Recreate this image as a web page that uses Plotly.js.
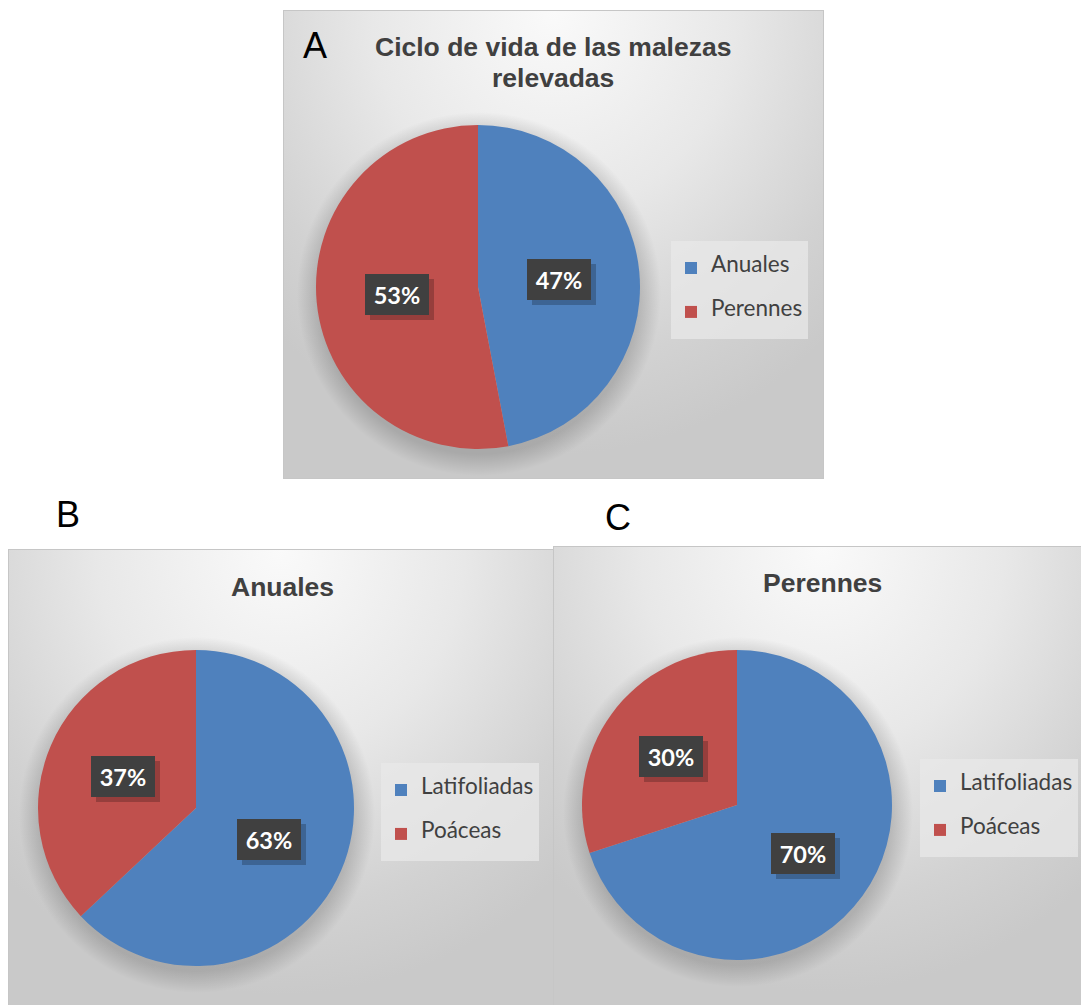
<!DOCTYPE html>
<html><head><meta charset="utf-8">
<script src="https://cdn.plot.ly/plotly-3.0.1.min.js"></script>
<style>
html,body{margin:0;padding:0;background:#fff;}
#wrap{position:relative;width:1081px;height:1005px;overflow:hidden;}
.panel{position:absolute;box-sizing:border-box;border:1px solid #c6c6c6;}
#pA{left:283px;top:10px;width:541px;height:469px;
 background:
 radial-gradient(circle at 195px 283px, rgba(0,0,0,0.16) 160px, rgba(0,0,0,0.0) 182px),
 radial-gradient(ellipse 75% 95% at 50% 0%, #fafafa 0%, #e8e8e8 45%, #d2d2d2 80%, #c9c9c9 100%);}
#pB{left:8px;top:549px;width:546px;height:470px;
 background:
 radial-gradient(circle at 188px 265px, rgba(0,0,0,0.16) 156px, rgba(0,0,0,0.0) 178px),
 radial-gradient(ellipse 75% 95% at 50% 0%, #fafafa 0%, #e8e8e8 45%, #d2d2d2 80%, #c9c9c9 100%);}
#pC{left:553px;top:546px;width:540px;height:470px;
 background:
 radial-gradient(circle at 184px 265px, rgba(0,0,0,0.16) 153px, rgba(0,0,0,0.0) 175px),
 radial-gradient(ellipse 75% 95% at 50% 0%, #fafafa 0%, #e8e8e8 45%, #d2d2d2 80%, #c9c9c9 100%);}
#chart{position:absolute;left:0;top:0;width:1081px;height:1005px;}
</style></head><body>
<div id="wrap">
<div class="panel" id="pA"></div>
<div class="panel" id="pB"></div>
<div class="panel" id="pC"></div>
<div id="chart"></div>
</div>
<script>
// ---- data ----
const cicloLabels = ['Anuales', 'Perennes'];
const cicloValues = [47, 53];
const grupoLabels = ['Latifoliadas', 'Poáceas'];
const anualesValues = [63, 37];
const perennesValues = [70, 30];
const sliceColors = ['#4F81BD', '#C0504D'];
const titleA = ['Ciclo de vida de las malezas', 'relevadas'];
const titleB = 'Anuales';
const titleC = 'Perennes';

// ---- layout helpers ----
const W = 1081, H = 1005;
function domainFor(cx, cy, r) {
  return { x: [(cx - r) / W, (cx + r) / W], y: [(H - cy - r) / H, (H - cy + r) / H] };
}
const domA = domainFor(478, 287, 162);
const domB = domainFor(196, 808, 158);
const domC = domainFor(737, 805, 155);

// legend entries: padded with blank lines for Excel-like spacing;
// the pad string differs per legend so identical labels are not merged
function legendLabels(labels, pad) {
  return labels.map(l => pad + '<br><span style="font-size:22.5px">' + l + '</span><br>' + pad);
}

function pieTrace(labels, values, dom, legendId, pad) {
  return {
    type: 'pie', labels: legendLabels(labels, pad), values: values, domain: dom,
    sort: false, direction: 'clockwise', rotation: 0,
    marker: { colors: sliceColors, line: { width: 0 } },
    textinfo: 'none', hoverinfo: 'percent', legend: legendId, showlegend: true
  };
}

function dataLabels(values, dom, frac) {
  const cx = (dom.x[0] + dom.x[1]) / 2, cy = (dom.y[0] + dom.y[1]) / 2;
  const rpx = Math.min((dom.x[1] - dom.x[0]) * W, (dom.y[1] - dom.y[0]) * H) / 2;
  const total = values.reduce((a, b) => a + b, 0);
  let cum = 0;
  const out = [];
  values.forEach(v => {
    const th = (cum + v / 2) / total * 2 * Math.PI;
    cum += v;
    const x = cx + frac * rpx * Math.sin(th) / W;
    const y = cy + frac * rpx * Math.cos(th) / H;
    out.push({ x: x, y: y, xref: 'paper', yref: 'paper', text: ' ', showarrow: false,
      xanchor: 'center', yanchor: 'middle',
      width: 54, height: 31, bgcolor: 'rgba(0,0,0,0.22)', borderpad: 5, borderwidth: 0,
      xshift: 5, yshift: -5 });
    out.push({ x: x, y: y, xref: 'paper', yref: 'paper',
      text: Math.round(v / total * 100) + '%', showarrow: false,
      xanchor: 'center', yanchor: 'middle',
      font: { family: 'Lato, Open Sans, sans-serif', size: 23.5, color: '#ffffff', weight: 'bold' },
      width: 54, height: 31, bgcolor: '#404040', borderpad: 5, borderwidth: 0 });
  });
  return out;
}

function textAnn(text, xpx, ypx, size, bold, color, family) {
  return { x: xpx / W, y: (H - ypx) / H, xref: 'paper', yref: 'paper', text: text,
    showarrow: false, xanchor: 'center', yanchor: 'middle',
    font: { family: family, size: size, color: color, weight: bold ? 'bold' : 'normal' } };
}

const titleFont = 'Liberation Sans, Arial, sans-serif';
const annotations = [
  textAnn('A', 315, 45, 36, false, '#000000', titleFont),
  textAnn('B', 68, 514, 36, false, '#000000', titleFont),
  textAnn('C', 618, 518, 36, false, '#000000', titleFont),
  textAnn(titleA[0], 553, 47, 26.5, true, '#404040', titleFont),
  textAnn(titleA[1], 553, 78, 26.5, true, '#404040', titleFont),
  textAnn(titleB, 282, 587, 26.5, true, '#404040', titleFont),
  textAnn(titleC, 822, 583, 26.5, true, '#404040', titleFont)
].concat(dataLabels(cicloValues, domA, 0.5))
 .concat(dataLabels(anualesValues, domB, 0.5))
 .concat(dataLabels(perennesValues, domC, 0.53));

const legendStyle = (x, ytop) => ({
  x: x / W, y: (H - ytop) / H, xanchor: 'left', yanchor: 'top',
  bgcolor: 'rgba(232,232,232,0.75)', borderwidth: 0, valign: 'middle',
  font: { family: 'Lato, Open Sans, sans-serif', size: 10.5, color: '#404040' },
  itemclick: false, itemdoubleclick: false
});

const data = [
  pieTrace(cicloLabels, cicloValues, domA, 'legend', ' '),
  pieTrace(grupoLabels, anualesValues, domB, 'legend2', ' '),
  pieTrace(grupoLabels, perennesValues, domC, 'legend3', '\u00a0')
];

const layout = {
  width: W, height: H,
  margin: { l: 0, r: 0, t: 0, b: 0 },
  paper_bgcolor: 'rgba(0,0,0,0)', plot_bgcolor: 'rgba(0,0,0,0)',
  showlegend: true,
  legend: legendStyle(671, 241),
  legend2: legendStyle(381, 763),
  legend3: legendStyle(920, 759),
  annotations: annotations
};

Plotly.newPlot('chart', data, layout, { displayModeBar: false, staticPlot: true });
</script>
</body></html>
